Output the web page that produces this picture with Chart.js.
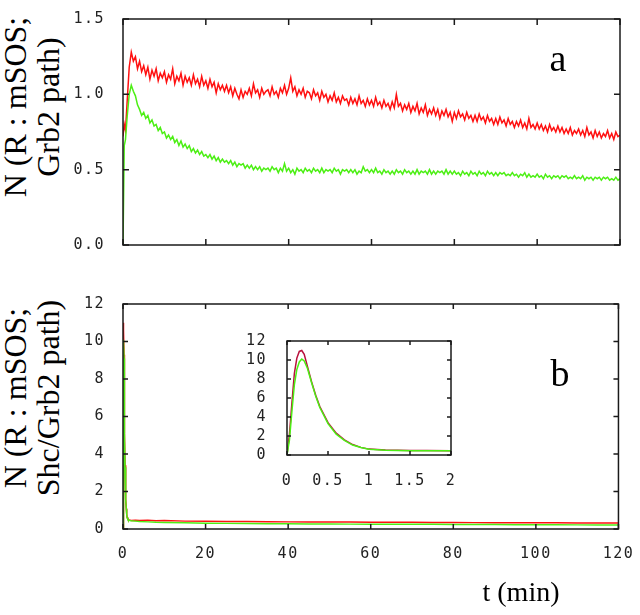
<!DOCTYPE html>
<html>
<head>
<meta charset="utf-8">
<script src="https://cdn.jsdelivr.net/npm/chart.js@4.4.1/dist/chart.umd.min.js"></script>
<style>
  body { margin: 0; background: #fff; }
  #wrap { position: relative; width: 640px; height: 615px; overflow: hidden; font-family: 'Liberation Serif', 'DejaVu Serif', serif; color: #000; }
  canvas { position: absolute; }
  .ytitle { position: absolute; width: 240px; height: 66px; font-size: 32px; line-height: 33px; text-align: center; white-space: nowrap; transform: rotate(-90deg); }
  .lbl { position: absolute; line-height: 1; white-space: nowrap; transform: translateX(-50%); }
</style>
</head>
<body>
<div id="wrap">
  <div class="ytitle" style="left:-88px; top:74px">N (R : mSOS;<br>Grb2 path)</div>
  <div class="ytitle" style="left:-88px; top:365px">N (R : mSOS;<br>Shc/Grb2 path)</div>
  <canvas id="topChart" width="640" height="265" style="left:0; top:0"></canvas>
  <canvas id="botChart" width="640" height="330" style="left:0; top:285px"></canvas>
  <canvas id="insetChart" width="230" height="190" style="left:240px; top:320px"></canvas>
  <div class="lbl" style="left:558px; top:39px; font-size:38px">a</div>
  <div class="lbl" style="left:560px; top:354px; font-size:38px">b</div>
  <div class="lbl" style="left:521px; top:578px; font-size:28px">t (min)</div>
</div>
<script>
// panel a: time (min) and the two traces
const tTop = [0, 0.3, 0.6, 1, 1.5, 2, 2.5, 3, 3.5, 4, 4.5,
  5, 5.5, 6, 6.5, 7, 7.5, 8, 8.5, 9, 9.5, 10, 10.5, 11, 11.5, 12, 12.5, 13, 13.5, 14, 14.5,
  15, 15.5, 16, 16.5, 17, 17.5, 18, 18.5, 19, 19.5, 20, 20.5, 21, 21.5, 22, 22.5, 23, 23.5, 24, 24.5,
  25, 25.5, 26, 26.5, 27, 27.5, 28, 28.5, 29, 29.5, 30, 30.5, 31, 31.5, 32, 32.5, 33, 33.5, 34, 34.5,
  35, 35.5, 36, 36.5, 37, 37.5, 38, 38.5, 39, 39.5, 40, 40.5, 41, 41.5, 42, 42.5, 43, 43.5, 44, 44.5,
  45, 45.5, 46, 46.5, 47, 47.5, 48, 48.5, 49, 49.5, 50, 50.5, 51, 51.5, 52, 52.5, 53, 53.5, 54, 54.5,
  55, 55.5, 56, 56.5, 57, 57.5, 58, 58.5, 59, 59.5, 60, 60.5, 61, 61.5, 62, 62.5, 63, 63.5, 64, 64.5,
  65, 65.5, 66, 66.5, 67, 67.5, 68, 68.5, 69, 69.5, 70, 70.5, 71, 71.5, 72, 72.5, 73, 73.5, 74, 74.5,
  75, 75.5, 76, 76.5, 77, 77.5, 78, 78.5, 79, 79.5, 80, 80.5, 81, 81.5, 82, 82.5, 83, 83.5, 84, 84.5,
  85, 85.5, 86, 86.5, 87, 87.5, 88, 88.5, 89, 89.5, 90, 90.5, 91, 91.5, 92, 92.5, 93, 93.5, 94, 94.5,
  95, 95.5, 96, 96.5, 97, 97.5, 98, 98.5, 99, 99.5, 100, 100.5, 101, 101.5, 102, 102.5, 103, 103.5, 104, 104.5,
  105, 105.5, 106, 106.5, 107, 107.5, 108, 108.5, 109, 109.5, 110, 110.5, 111, 111.5, 112, 112.5, 113, 113.5, 114, 114.5,
  115, 115.5, 116, 116.5, 117, 117.5, 118, 118.5, 119, 119.5, 120];
const redTop = [0.72, 0.80, 0.76, 0.95, 1.18, 1.28, 1.22, 1.25, 1.17, 1.22, 1.15,
  1.19, 1.13, 1.18, 1.10, 1.16, 1.12, 1.17, 1.09, 1.14, 1.11, 1.15, 1.08, 1.13, 1.10, 1.17, 1.07, 1.12, 1.09, 1.14, 1.06,
  1.12, 1.08, 1.11, 1.06, 1.13, 1.07, 1.10, 1.05, 1.12, 1.06, 1.09, 1.04, 1.10, 1.05, 1.08, 1.01, 1.07, 1.03, 1.06, 1.02,
  1.06, 1.01, 1.05, 0.99, 1.04, 1.00, 0.97, 1.03, 0.98, 1.02, 1.00, 1.04, 0.99, 1.07, 1.01, 1.03, 0.98, 1.04, 1.00, 1.02,
  1.03, 0.99, 1.05, 1.00, 1.02, 0.98, 1.04, 1.01, 1.06, 1.00, 1.04, 1.11, 1.02, 1.05, 0.99, 1.03, 1.00, 1.04, 0.98, 1.02,
  1.01, 0.97, 1.03, 0.99, 1.01, 0.96, 1.02, 0.98, 1.00, 0.95, 0.99, 0.96, 1.01, 0.95, 0.98, 0.94, 0.99, 0.96, 0.97, 0.93,
  0.98, 0.94, 0.97, 0.93, 0.99, 0.94, 0.96, 0.92, 0.97, 0.93, 0.96, 0.92, 0.98, 0.93, 0.95, 0.91, 0.96, 0.92, 0.94, 0.90,
  0.95, 0.91, 1.00, 0.92, 0.94, 0.89, 0.93, 0.90, 0.94, 0.88, 0.92, 0.89, 0.94, 0.87, 0.91, 0.88, 0.93, 0.86, 0.90, 0.87,
  0.91, 0.86, 0.90, 0.84, 0.89, 0.86, 0.90, 0.85, 0.88, 0.82, 0.88, 0.84, 0.89, 0.85, 0.87, 0.83, 0.88, 0.84, 0.86, 0.82,
  0.86, 0.82, 0.87, 0.83, 0.85, 0.81, 0.86, 0.82, 0.84, 0.80, 0.84, 0.80, 0.85, 0.81, 0.83, 0.79, 0.84, 0.80, 0.82, 0.78,
  0.82, 0.79, 0.83, 0.78, 0.81, 0.77, 0.84, 0.78, 0.80, 0.77, 0.81, 0.77, 0.80, 0.76, 0.79, 0.75, 0.80, 0.76, 0.78, 0.75,
  0.79, 0.75, 0.78, 0.74, 0.77, 0.74, 0.78, 0.73, 0.76, 0.74, 0.77, 0.73, 0.76, 0.72, 0.78, 0.73, 0.75, 0.71, 0.76, 0.72,
  0.75, 0.71, 0.74, 0.72, 0.76, 0.71, 0.74, 0.70, 0.75, 0.72, 0.73];
const greenTop = [0.00, 0.66, 0.70, 0.85, 1.00, 1.06, 1.02, 0.99, 0.93, 0.90, 0.86,
  0.88, 0.84, 0.86, 0.81, 0.83, 0.79, 0.80, 0.76, 0.78, 0.74, 0.75, 0.71, 0.73, 0.70, 0.72, 0.68, 0.70, 0.66, 0.69, 0.65,
  0.67, 0.64, 0.66, 0.62, 0.64, 0.61, 0.63, 0.60, 0.62, 0.59, 0.60, 0.58, 0.60, 0.57, 0.59, 0.56, 0.58, 0.55, 0.57, 0.55,
  0.56, 0.54, 0.56, 0.53, 0.55, 0.52, 0.54, 0.53, 0.54, 0.51, 0.53, 0.51, 0.53, 0.50, 0.52, 0.50, 0.52, 0.49, 0.51, 0.50,
  0.51, 0.49, 0.52, 0.50, 0.51, 0.48, 0.51, 0.49, 0.54, 0.49, 0.51, 0.48, 0.50, 0.47, 0.51, 0.49, 0.50, 0.48, 0.51, 0.49,
  0.50, 0.48, 0.51, 0.49, 0.50, 0.48, 0.51, 0.48, 0.50, 0.49, 0.50, 0.48, 0.51, 0.49, 0.50, 0.47, 0.50, 0.49, 0.50, 0.48,
  0.50, 0.48, 0.50, 0.47, 0.49, 0.48, 0.52, 0.49, 0.50, 0.48, 0.50, 0.48, 0.51, 0.48, 0.49, 0.47, 0.50, 0.48, 0.49, 0.47,
  0.49, 0.47, 0.50, 0.48, 0.49, 0.47, 0.50, 0.48, 0.49, 0.47, 0.49, 0.47, 0.50, 0.47, 0.49, 0.48, 0.49, 0.47, 0.50, 0.47,
  0.49, 0.47, 0.49, 0.48, 0.49, 0.47, 0.50, 0.47, 0.49, 0.47, 0.49, 0.47, 0.48, 0.46, 0.49, 0.47, 0.48, 0.46, 0.49, 0.47,
  0.48, 0.46, 0.49, 0.47, 0.48, 0.46, 0.49, 0.47, 0.48, 0.46, 0.48, 0.46, 0.48, 0.47, 0.48, 0.46, 0.47, 0.46, 0.48, 0.46,
  0.47, 0.45, 0.47, 0.46, 0.48, 0.45, 0.47, 0.45, 0.46, 0.45, 0.47, 0.45, 0.46, 0.44, 0.47, 0.45, 0.46, 0.44, 0.46, 0.45,
  0.46, 0.44, 0.46, 0.45, 0.46, 0.44, 0.45, 0.44, 0.46, 0.44, 0.45, 0.44, 0.46, 0.43, 0.45, 0.44, 0.45, 0.43, 0.45, 0.44,
  0.45, 0.43, 0.45, 0.44, 0.45, 0.43, 0.44, 0.43, 0.45, 0.43, 0.44];

// panel b (and its inset, which zooms on the first 2 min)
const tBot = [0, 0.03, 0.06, 0.09, 0.12, 0.15, 0.18, 0.21, 0.25, 0.3, 0.35, 0.4, 0.5, 0.6, 0.7, 0.8, 0.9, 1, 1.2, 1.5, 1.7, 2,
  3, 4, 6, 8, 10, 15, 20, 25, 30, 35, 40, 45, 50, 55, 60, 65, 70, 75, 80, 85, 90, 95, 100, 105, 110, 115, 120];
const redBot = [0, 2.2, 5.5, 8.6, 10.2, 10.9, 11.0, 10.6, 9.3, 7.7, 6.3, 5.1, 3.4, 2.3, 1.6, 1.1, 0.8, 0.62, 0.52, 0.47, 0.47, 0.46,
  0.47, 0.45, 0.46, 0.44, 0.45, 0.42, 0.41, 0.40, 0.40, 0.39, 0.38, 0.38, 0.37, 0.37, 0.36, 0.36, 0.36, 0.35, 0.35, 0.34, 0.34, 0.33, 0.33, 0.33, 0.32, 0.32, 0.32];
const greenBot = [0, 1.6, 4.6, 7.4, 9.0, 9.8, 10.1, 9.9, 9.1, 7.6, 6.2, 5.0, 3.3, 2.2, 1.55, 1.05, 0.78, 0.6, 0.5, 0.46, 0.45, 0.44,
  0.42, 0.40, 0.38, 0.36, 0.35, 0.33, 0.31, 0.30, 0.29, 0.28, 0.28, 0.27, 0.27, 0.26, 0.26, 0.25, 0.25, 0.25, 0.24, 0.24, 0.24, 0.23, 0.23, 0.23, 0.22, 0.22, 0.22];

const RED = '#ff1010', GREEN = '#4cef14';
const tickFont = { family: "'DejaVu Sans Mono', monospace", size: 15 };

const pts = (xs, ys) => xs.map((x, i) => ({ x, y: ys[i] }));

// frame box + inward tick marks on all four sides
const frame = {
  id: 'frame',
  beforeDraw(chart) { chart.ctx.letterSpacing = '1.5px'; },
  afterDatasetsDraw(chart, args, opts) {
    const { ctx, chartArea: a, scales: { x, y } } = chart;
    const L = opts.len;
    ctx.save();
    ctx.strokeStyle = '#1a1a1a';
    ctx.lineWidth = 1.5;
    ctx.beginPath();
    x.ticks.forEach(t => {
      const px = x.getPixelForValue(t.value);
      ctx.moveTo(px, a.bottom); ctx.lineTo(px, a.bottom - L);
      ctx.moveTo(px, a.top); ctx.lineTo(px, a.top + L);
    });
    y.ticks.forEach(t => {
      const py = y.getPixelForValue(t.value);
      ctx.moveTo(a.left, py); ctx.lineTo(a.left + L, py);
      ctx.moveTo(a.right, py); ctx.lineTo(a.right - L, py);
    });
    ctx.stroke();
    ctx.strokeRect(a.left, a.top, a.width, a.height);
    ctx.restore();
  }
};

function makeChart(id, cfg) {
  return new Chart(document.getElementById(id), {
    type: 'line',
    data: { datasets: cfg.datasets },
    plugins: [frame],
    options: {
      responsive: false,
      animation: false,
      layout: { padding: cfg.pad },
      elements: { point: { radius: 0 }, line: { borderWidth: 1.5, tension: 0 } },
      plugins: { legend: { display: false }, tooltip: { enabled: false }, frame: { len: cfg.tickLen } },
      scales: {
        x: {
          type: 'linear', min: cfg.x[0], max: cfg.x[1],
          grid: { display: false }, border: { display: false },
          ticks: { stepSize: cfg.x[2], display: cfg.xLabels, font: tickFont, color: '#222', padding: cfg.xPad, maxRotation: 0, autoSkip: false, callback: v => String(v) },
          afterFit: s => { s.height = cfg.xH; }
        },
        y: {
          min: cfg.y[0], max: cfg.y[1],
          grid: { display: false }, border: { display: false },
          ticks: { stepSize: cfg.y[2], font: tickFont, color: '#222', padding: cfg.yPad, autoSkip: false, callback: cfg.yFmt },
          afterFit: s => { s.width = cfg.yW; }
        }
      }
    }
  });
}

makeChart('topChart', {
  datasets: [
    { data: pts(tTop, greenTop), borderColor: GREEN },
    { data: pts(tTop, redTop), borderColor: RED }
  ],
  pad: { top: 12, right: 20, left: 0, bottom: 0 },
  x: [0, 120, 20], y: [0, 1.5, 0.5], xLabels: false, xPad: 0, xH: 20,
  yW: 123, yPad: 10, yFmt: v => v.toFixed(1), tickLen: 6
});

makeChart('botChart', {
  datasets: [
    { data: pts(tBot, greenBot), borderColor: GREEN },
    { data: pts(tBot, redBot), borderColor: RED }
  ],
  pad: { top: 15, right: 17, left: 0, bottom: 0 },
  x: [0, 120, 20], y: [0, 12, 2], xLabels: true, xPad: 8, xH: 86,
  yW: 123, yPad: 10, yFmt: v => String(v), tickLen: 5
});

makeChart('insetChart', {
  datasets: [
    { data: pts(tBot, greenBot), borderColor: GREEN },
    { data: pts(tBot, redBot), borderColor: '#b8103c' }
  ],
  pad: { top: 13, right: 19, left: 0, bottom: 0 },
  x: [0, 2, 0.5], y: [0, 12, 2], xLabels: true, xPad: 9, xH: 55,
  yW: 47, yPad: 12, yFmt: v => String(v), tickLen: 4
});
</script>
</body>
</html>
